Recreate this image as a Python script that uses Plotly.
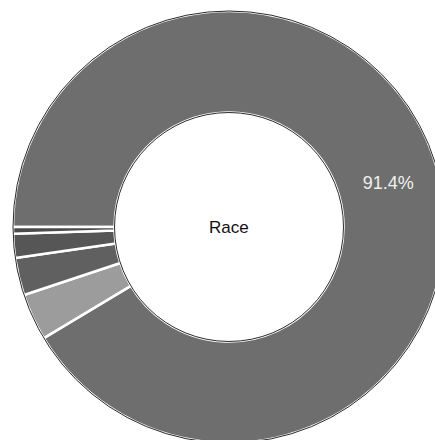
import plotly.graph_objects as go

# Data
categories = ["White", "Other", "Two or more", "Black", "Asian"]
values = [91.4, 3.5, 2.8, 1.8, 0.5]
colors = ["#6d6e6d", "#9c9c9c", "#5f605f", "#555655", "#4a4b4a"]
labels_shown = ["%{percent:.1%}", "", "", "", ""]
center_title = "Race"

fig = go.Figure()
fig.add_trace(go.Pie(
    labels=categories,
    values=values,
    hole=0.53,
    sort=False,
    direction="clockwise",
    rotation=270,
    marker=dict(colors=colors, line=dict(color="white", width=2.5)),
    texttemplate=labels_shown,
    textposition="inside",
    insidetextorientation="horizontal",
    textfont=dict(family="Liberation Sans, Arial", size=18, color="#f0f0f0"),
    showlegend=False,
    hoverinfo="label+percent",
))
# thin dark outline of the ring
fig.add_trace(go.Pie(
    labels=["ring"],
    values=[1],
    hole=0.53,
    sort=False,
    marker=dict(colors=["rgba(0,0,0,0)"], line=dict(color="#2a2a2a", width=1)),
    textinfo="none",
    hoverinfo="skip",
    showlegend=False,
))

fig.update_layout(
    width=445,
    height=443,
    margin=dict(l=13, r=0, t=11, b=0),
    paper_bgcolor="white",
    plot_bgcolor="white",
    annotations=[dict(
        text=center_title, x=0.5, y=0.5, xref="paper", yref="paper",
        showarrow=False, font=dict(family="Liberation Sans, Arial", size=17, color="#111111"),
    )],
)

fig.write_html(
    "out.html",
    config={"displayModeBar": False},
    post_script="document.body.style.margin='0';document.body.style.overflow='hidden';",
)
